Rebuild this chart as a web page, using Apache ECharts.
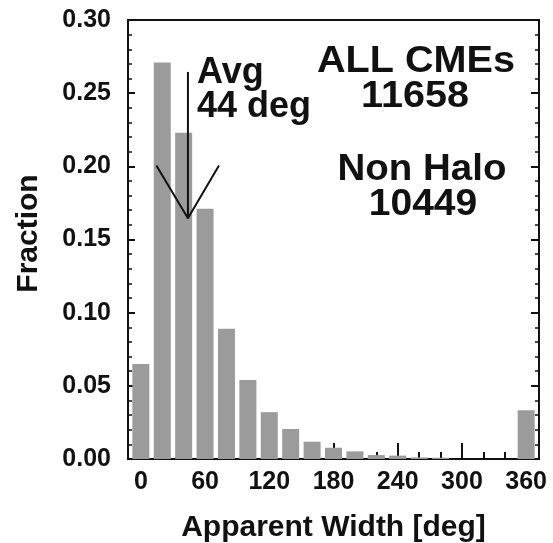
<!DOCTYPE html>
<html>
<head>
<meta charset="utf-8">
<script src="https://cdn.jsdelivr.net/npm/echarts@6/dist/echarts.min.js"></script>
<style>
  html, body { margin: 0; padding: 0; background: #fff; }
  #chart { width: 553px; height: 543px; }
</style>
</head>
<body>
<div id="chart"></div>
<script>
// bin centres (deg) and fraction of CMEs per 20 deg bin
const widthBins = [0, 20, 40, 60, 80, 100, 120, 140, 160, 180, 200, 220, 240, 260, 280, 300, 320, 340, 360];
const fractions = [0.065, 0.271, 0.223, 0.171, 0.089, 0.054, 0.032, 0.0205, 0.0118, 0.0077, 0.0052, 0.0027, 0.0023, 0.0011, 0.0009, 0, 0, 0, 0.0333];

const xMajorTicks = [0, 60, 120, 180, 240, 300, 360];
const xMinorTicks = [20, 40, 80, 100, 140, 160, 200, 220, 260, 280, 320, 340];

// average width marker (arrow at 44 deg)
const avgShaft = [[44, 0.2645], [44, 0.1645]];
const avgHead = [[14.5, 0.2005], [44, 0.1645], [73, 0.2005]];

const FONT = '"Liberation Sans", Arial, Helvetica, sans-serif';
const ink = '#111';

const chart = echarts.init(document.getElementById('chart'));

function label(text, x, y, size, align, sx) {
  return {
    type: 'text', x: x, y: y, scaleX: sx || 1,
    style: { text: text, textAlign: align, font: 'bold ' + size + 'px ' + FONT, fill: ink }
  };
}

chart.setOption({
  animation: false,
  backgroundColor: '#fff',
  grid: {
    left: 128, right: 14, top: 20, bottom: 84,
    outerBoundsMode: 'none',
    show: true, borderColor: ink, borderWidth: 2
  },
  xAxis: [
    {
      type: 'value', min: -12, max: 372,
      name: 'Apparent Width [deg]',
      nameLocation: 'middle', nameGap: 54,
      nameTextStyle: { fontFamily: FONT, fontWeight: 'bold', fontSize: 30, color: ink },
      axisLine: { show: true, onZero: false, lineStyle: { color: ink, width: 2 } },
      axisTick: { show: true, inside: true, length: 16, customValues: xMajorTicks, lineStyle: { color: ink, width: 2 } },
      axisLabel: { customValues: xMajorTicks, margin: 11, fontFamily: FONT, fontWeight: 'bold', fontSize: 25, color: ink },
      splitLine: { show: false }
    },
    {
      type: 'value', min: -12, max: 372, position: 'bottom',
      axisLine: { show: false, onZero: false },
      axisTick: { show: true, inside: true, length: 7, customValues: xMinorTicks, lineStyle: { color: ink, width: 2 } },
      axisLabel: { show: false },
      splitLine: { show: false }
    }
  ],
  yAxis: [
    {
      type: 'value', min: 0, max: 0.3, interval: 0.05,
      name: 'Fraction',
      nameLocation: 'middle', nameGap: 84,
      nameTextStyle: { fontFamily: FONT, fontWeight: 'bold', fontSize: 30, color: ink, padding: [0, 0, 0, 12] },
      axisLine: { show: true, onZero: false, lineStyle: { color: ink, width: 2 } },
      axisTick: { show: true, inside: true, length: 7, lineStyle: { color: ink, width: 2 } },
      minorTick: { show: true, splitNumber: 5, length: 4, lineStyle: { color: ink, width: 1.5 } },
      axisLabel: { margin: 17, formatter: v => v.toFixed(2), fontFamily: FONT, fontWeight: 'bold', fontSize: 25, color: ink },
      splitLine: { show: false }
    },
    {
      type: 'value', min: 0, max: 0.3, interval: 0.05, position: 'right',
      axisLine: { show: true, onZero: false, lineStyle: { color: ink, width: 2 } },
      axisTick: { show: true, inside: true, length: 8, lineStyle: { color: ink, width: 2 } },
      minorTick: { show: true, splitNumber: 5, length: 4, lineStyle: { color: ink, width: 1.5 } },
      axisLabel: { show: false },
      splitLine: { show: false }
    }
  ],
  series: [
    {
      type: 'bar',
      barWidth: 17,
      itemStyle: { color: '#9b9b9b' },
      data: widthBins.map((x, i) => [x, fractions[i]]),
      z: 1
    },
    {
      type: 'line', data: avgShaft, symbol: 'none',
      lineStyle: { color: ink, width: 2 }, z: 5
    },
    {
      type: 'line', data: avgHead, symbol: 'none',
      lineStyle: { color: ink, width: 2 }, z: 5
    }
  ],
  graphic: [
    label('Avg', 197, 55, 36, 'left'),
    label('44 deg', 197, 89, 36, 'left'),
    label('ALL CMEs', 416, 43, 37, 'center', 1.07),
    label('11658', 415, 78, 37, 'center', 1.07),
    label('Non Halo', 422, 151, 37, 'center', 1.04),
    label('10449', 423, 186, 37, 'center', 1.055)
  ]
});
</script>
</body>
</html>
